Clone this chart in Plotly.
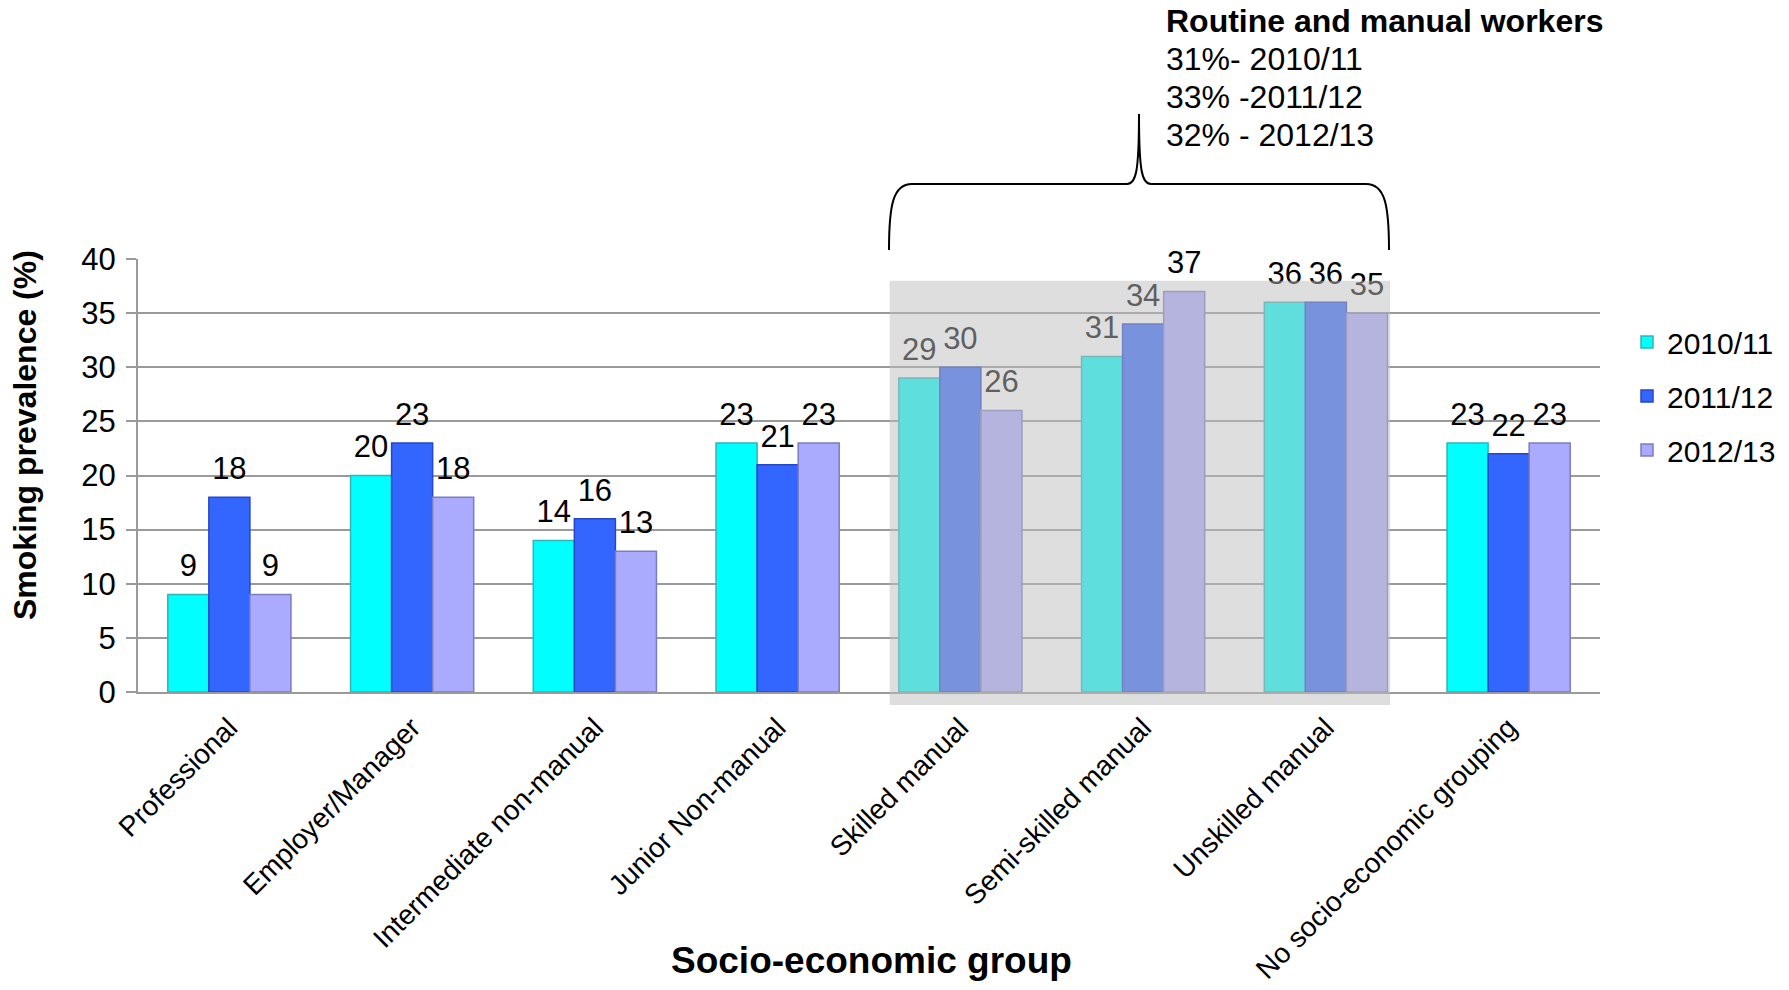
import plotly.graph_objects as go

# ---- data -------------------------------------------------------------
categories = [
    "Professional",
    "Employer/Manager",
    "Intermediate non-manual",
    "Junior Non-manual",
    "Skilled manual",
    "Semi-skilled manual",
    "Unskilled manual",
    "No socio-economic grouping",
]
years = ["2010/11", "2011/12", "2012/13"]
prev_2010_11 = [9, 20, 14, 23, 29, 31, 36, 23]
prev_2011_12 = [18, 23, 16, 21, 30, 34, 36, 22]
prev_2012_13 = [9, 18, 13, 23, 26, 37, 35, 23]
y_ticks = [0, 5, 10, 15, 20, 25, 30, 35, 40]

highlight_groups = ["Skilled manual", "Semi-skilled manual", "Unskilled manual"]
routine_title = "Routine and manual workers"
routine_lines = ["31%- 2010/11", "33% -2011/12", "32% - 2012/13"]

x_title = "Socio-economic group"
y_title = "Smoking prevalence (%)"

# ---- styling ----------------------------------------------------------
FONT = "Liberation Sans, Arial, sans-serif"
fills = ["#00FFFF", "#3366FF", "#AAAAFF"]
edges = ["#2FB5B5", "#2647C8", "#7C7CC0"]
GRID = "#9A9A9A"

W, H = 1789, 990
M = dict(l=138, r=189, t=259, b=298, autoexpand=False)
PW = W - M["l"] - M["r"]
PH = H - M["t"] - M["b"]
BARGAP = 0.326
Y_MAX = 40
LABEL_SIZE = 31


def px_x(px):
    return (px - M["l"]) / PW


def px_y(py):
    return (H - M["b"] - py) / PH


series = [prev_2010_11, prev_2011_12, prev_2012_13]

fig = go.Figure()

for name, vals, fc, ec in zip(years, series, fills, edges):
    fig.add_trace(go.Bar(
        name=name, x=categories, y=vals,
        marker=dict(color=fc, line=dict(color=ec, width=1.5)),
        legendgroup=name,
        hoverinfo="x+y+name",
    ))

# value labels, grouped alongside the bars
for name, vals in zip(years, series):
    fig.add_trace(go.Scatter(
        x=categories, y=vals, mode="markers+text",
        text=[str(v) for v in vals], textposition="top center",
        textfont=dict(family=FONT, size=LABEL_SIZE, color="#000000"),
        marker=dict(size=15, color="rgba(0,0,0,0)", line=dict(width=0)),
        showlegend=False, hoverinfo="skip", cliponaxis=False,
    ))

# translucent band over the routine & manual groups
half_group = (1 - BARGAP) / 2
x0 = categories.index(highlight_groups[0]) - half_group - 0.05
x1 = categories.index(highlight_groups[-1]) + half_group + 0.015
fig.add_shape(type="rect", xref="x", yref="paper",
              x0=x0, x1=x1, y0=-1.2 / Y_MAX, y1=38 / Y_MAX,
              fillcolor="rgba(190,190,190,0.5)", line=dict(width=0),
              layer="above")

# curly brace above the band
pts = [
    ("M", [(889, 250)]),
    ("C", [(889, 205), (893, 184), (912, 184)]),
    ("L", [(1127, 184)]),
    ("C", [(1136, 184), (1139, 172), (1139, 114)]),
    ("C", [(1139, 172), (1142, 184), (1151, 184)]),
    ("L", [(1366, 184)]),
    ("C", [(1385, 184), (1389, 205), (1389, 250)]),
]
path = " ".join(
    cmd + " " + " ".join(f"{px_x(a):.5f},{px_y(b):.5f}" for a, b in p)
    for cmd, p in pts
)
fig.add_shape(type="path", xref="paper", yref="paper", path=path,
              line=dict(color="#000000", width=2), layer="above")

# brace caption
CAP = 32
fig.add_annotation(text=routine_title, xref="paper", yref="paper",
                   x=px_x(1164), y=px_y(32 - 0.347 * CAP), xanchor="left", yanchor="middle",
                   showarrow=False, font=dict(family=FONT, size=CAP, color="#000", weight="bold"))
for i, line in enumerate(routine_lines):
    baseline = 70 + i * 38
    fig.add_annotation(text=line, xref="paper", yref="paper",
                       x=px_x(1164), y=px_y(baseline - 0.347 * CAP), xanchor="left", yanchor="middle",
                       showarrow=False, font=dict(family=FONT, size=CAP, color="#000"))

# axis titles
fig.add_annotation(text=y_title, xref="paper", yref="paper",
                   x=px_x(25), y=px_y(435), textangle=-90,
                   xanchor="center", yanchor="middle", showarrow=False,
                   font=dict(family=FONT, size=32, color="#000", weight="bold"))
fig.add_annotation(text=x_title, xref="paper", yref="paper",
                   x=px_x(872), y=px_y(960),
                   xanchor="center", yanchor="middle", showarrow=False,
                   font=dict(family=FONT, size=37, color="#000", weight="bold"))

fig.update_layout(
    width=W, height=H, margin=M,
    paper_bgcolor="white", plot_bgcolor="white",
    barmode="group", bargap=BARGAP, bargroupgap=0,
    scattermode="group", scattergap=BARGAP,
    font=dict(family=FONT, color="#000"),
    showlegend=True,
    legend=dict(
        x=px_x(1627), y=px_y(396), xanchor="left", yanchor="middle",
        font=dict(family=FONT, size=30, color="#000"),
        traceorder="grouped", tracegroupgap=12,
        bgcolor="rgba(0,0,0,0)", itemwidth=30,
    ),
    xaxis=dict(
        type="category", showgrid=False, showline=True, automargin=False,
        linecolor=GRID, linewidth=2, ticks="",
        tickangle=-45, ticklabelstandoff=6,
        tickfont=dict(family=FONT, size=28, color="#000"),
    ),
    yaxis=dict(
        range=[0, Y_MAX], tickvals=y_ticks, showgrid=True, automargin=False,
        gridcolor=GRID, gridwidth=2, zeroline=False,
        showline=True, linecolor=GRID, linewidth=2,
        ticks="outside", ticklen=10, tickcolor=GRID, tickwidth=2,
        ticklabelstandoff=4,
        tickfont=dict(family=FONT, size=31, color="#000"),
    ),
)

fig.write_html("out.html")
